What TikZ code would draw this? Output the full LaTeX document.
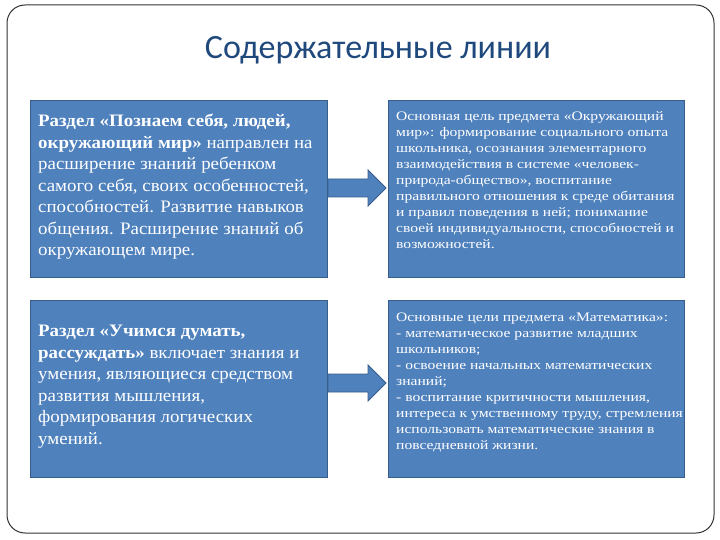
\documentclass[tikz,border=0pt]{standalone}
\usepackage{fontspec}
\setmainfont{Liberation Serif}
\newfontfamily\lfont[FakeStretch=1.08]{Liberation Serif}
\newfontfamily\rfont[FakeStretch=1.2]{Liberation Serif}
\newfontfamily\titlefont{Carlito}
\begin{document}
\begin{tikzpicture}[x=1pt,y=-1pt,
  box/.style={draw=boxedge, line width=0.8pt, fill=boxblue},
  ltext/.style={anchor=north west, align=left, text=white, font=\lfont\fontsize{17.5}{21.5}\selectfont, inner sep=0pt},
  rtext/.style={anchor=north west, align=left, text=white, font=\rfont\fontsize{13}{16}\selectfont, inner sep=0pt},
  barrow/.style={fill=boxblue, draw=boxedge, line width=0.8pt}]
\definecolor{boxblue}{HTML}{4F81BD}
\definecolor{boxedge}{HTML}{385D8A}
\definecolor{titleblue}{HTML}{1F497D}
\useasboundingbox (0,0) rectangle (720,540);
\fill[white] (0,0) rectangle (720,540);
\draw[black!80, line width=1pt, rounded corners=18pt] (7,5) rectangle (714,533);
\node[text=titleblue, font=\titlefont\fontsize{34}{40}\selectfont] (title) at (378,50) {Содержательные линии};
\draw[box] (30,100) rectangle (327,277) coordinate (b1);
\draw[box] (388,100) rectangle (684,277) coordinate (b2);
\draw[box] (30,300) rectangle (327,477) coordinate (b3);
\draw[box] (388,300) rectangle (684,477) coordinate (b4);
\node[ltext] (t1) at (38,114) {\textbf{Раздел «Познаем себя, людей,}\\\textbf{окружающий мир»} направлен на\\расширение знаний ребенком\\самого себя, своих особенностей,\\способностей. Развитие навыков\\общения. Расширение знаний об\\окружающем мире.};
\node[rtext] (t2) at (396,111) {Основная цель предмета «Окружающий\\мир»: формирование социального опыта\\школьника, осознания элементарного\\взаимодействия в системе «человек-\\природа-общество», воспитание\\правильного отношения к среде обитания\\и правил поведения в ней; понимание\\своей индивидуальности, способностей и\\возможностей.};
\node[ltext] (t3) at (38,325) {\textbf{Раздел «Учимся думать,}\\\textbf{рассуждать»} включает знания и\\умения, являющиеся средством\\развития мышления,\\формирования логических\\умений.};
\node[rtext] (t4) at (396,313) {Основные цели предмета «Математика»:\\- математическое развитие младших\\школьников;\\- освоение начальных математических\\знаний;\\- воспитание критичности мышления,\\интереса к умственному труду, стремления\\использовать математические знания в\\повседневной жизни.};
\draw[barrow] (328,179) -- (368,179) -- (368,170) -- (386,188) -- (368,206) -- (368,197) -- (328,197) -- cycle;
\draw[barrow] (328,374) -- (368,374) -- (368,365) -- (386,383) -- (368,401) -- (368,392) -- (328,392) -- cycle;
\end{tikzpicture}
\end{document}
